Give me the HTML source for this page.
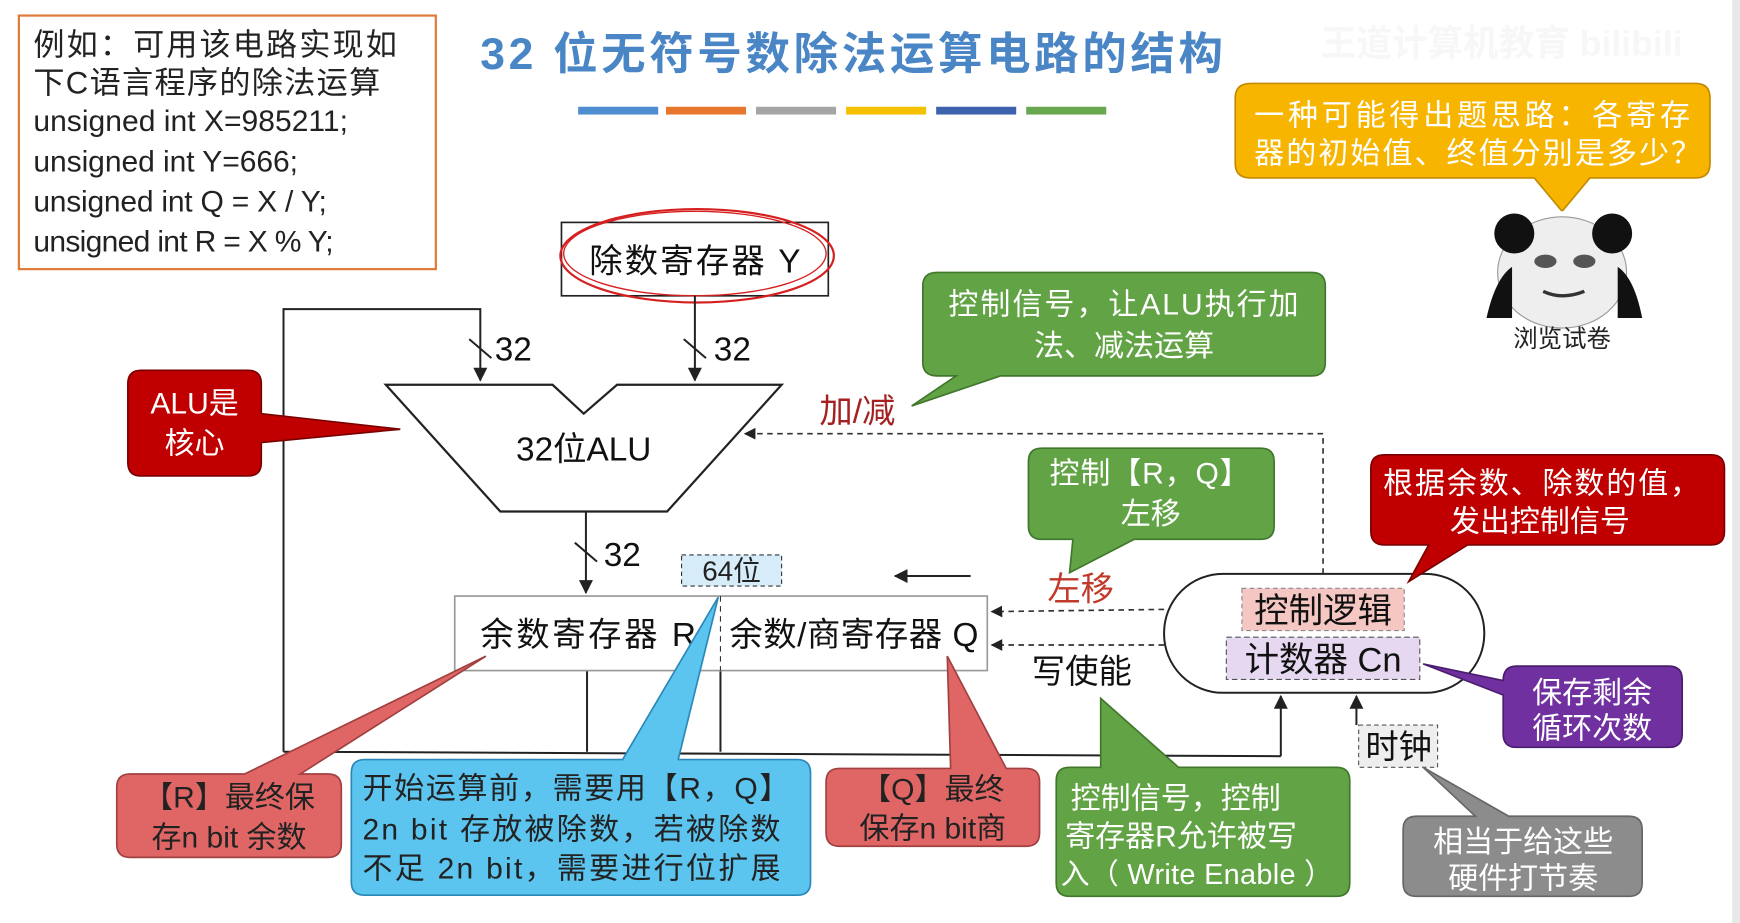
<!DOCTYPE html>
<html><head><meta charset="utf-8"><style>
html,body{margin:0;padding:0;background:#fff;overflow:hidden}
svg{display:block}
text{font-family:"Liberation Sans","Noto Sans CJK SC",sans-serif}
</style></head><body>
<svg width="1740" height="923" viewBox="0 0 1565 830" preserveAspectRatio="none" xmlns="http://www.w3.org/2000/svg">
<defs>
<marker id="ar" viewBox="0 0 10 10" refX="9" refY="5" markerWidth="7" markerHeight="7" orient="auto-start-reverse"><path d="M0,0 L10,5 L0,10 z" fill="#222"/></marker>
</defs>
<rect width="1565" height="830" fill="#fff"/>
<rect x="1558" y="0" width="7" height="830" fill="#e8e8e8"/>

<rect x="17" y="14" width="375" height="228" fill="#fff" stroke="#e07b39" stroke-width="2"/>
<g font-size="27" fill="#222">
<text x="30" y="50" textLength="327" font-size="28">例如：可用该电路实现如</text>
<text x="30" y="84" textLength="312" font-size="28">下C语言程序的除法运算</text>
<text x="30" y="118" textLength="283">unsigned int X=985211;</text>
<text x="30" y="154" textLength="238">unsigned int Y=666;</text>
<text x="30" y="190" textLength="264">unsigned int Q = X / Y;</text>
<text x="30" y="226" textLength="270">unsigned int R = X % Y;</text>
</g>

<text x="432" y="62" font-size="40" font-weight="bold" fill="#4a86c5" textLength="668">32 位无符号数除法运算电路的结构</text>
<rect x="520" y="96" width="72" height="7" fill="#4e8ed0"/>
<rect x="599" y="96" width="72" height="7" fill="#e8772e"/>
<rect x="680" y="96" width="72" height="7" fill="#a5a5a5"/>
<rect x="761" y="96" width="72" height="7" fill="#f5c000"/>
<rect x="842" y="96" width="72" height="7" fill="#3f62ae"/>
<rect x="923" y="96" width="72" height="7" fill="#6aa84f"/>
<text x="1188" y="50" font-size="32" font-weight="bold" fill="#f7f7f7">王道计算机教育 bilibili</text>

<path d="M1125,75 H1525 Q1538,75 1538,88 V147 Q1538,160 1525,160 H1430 L1405,190 L1380,160 H1125 Q1111,160 1111,147 V88 Q1111,75 1125,75 Z" fill="#f7b500" stroke="#c48a00" stroke-width="1.5"/>
<text x="1128" y="113" font-size="27" fill="#fff" textLength="392">一种可能得出题思路：各寄存</text>
<text x="1128" y="147" font-size="27" fill="#fff" textLength="402">器的初始值、终值分别是多少？</text>

<g>
<rect x="1337" y="190" width="140" height="96" fill="#fff"/>
<ellipse cx="1405" cy="245" rx="58" ry="50" fill="#eee" stroke="#999"/>
<circle cx="1362" cy="210" r="18" fill="#111"/>
<circle cx="1450" cy="210" r="18" fill="#111"/>
<path d="M1337,286 Q1345,250 1360,240 L1360,286 Z" fill="#111"/>
<path d="M1477,286 Q1470,250 1455,240 L1455,286 Z" fill="#111"/>
<ellipse cx="1390" cy="235" rx="10" ry="6" fill="#555"/>
<ellipse cx="1425" cy="235" rx="10" ry="6" fill="#555"/>
<path d="M1388,262 Q1405,270 1425,262" stroke="#333" stroke-width="3" fill="none"/>
</g>
<text x="1405" y="312" font-size="22" fill="#222" text-anchor="middle">浏览试卷</text>

<rect x="505" y="200" width="240" height="66" fill="#fff" stroke="#222" stroke-width="1.5"/>
<text x="530" y="245" font-size="30" fill="#111" textLength="190">除数寄存器 Y</text>
<ellipse cx="627" cy="230" rx="123" ry="42" fill="none" stroke="#d62020" stroke-width="2"/>
<ellipse cx="625" cy="228" rx="118" ry="38" fill="none" stroke="#d62020" stroke-width="1.2"/>

<g stroke="#222" stroke-width="1.8" fill="none">
<line x1="625" y1="266" x2="625" y2="342" marker-end="url(#ar)"/>
<polyline points="255,676 255,278 432,278 432,342" marker-end="url(#ar)"/>
<line x1="527" y1="460" x2="527" y2="533" marker-end="url(#ar)"/>
<line x1="255" y1="676" x2="1152" y2="680"/>
<line x1="1152" y1="680" x2="1152" y2="626" marker-end="url(#ar)"/>
<line x1="528" y1="603" x2="528" y2="676"/>
<line x1="648" y1="603" x2="648" y2="676"/>
<line x1="1220" y1="652" x2="1220" y2="626" marker-end="url(#ar)"/>
<line x1="615" y1="305" x2="635" y2="322"/>
<line x1="422" y1="305" x2="442" y2="322"/>
<line x1="517" y1="488" x2="537" y2="505"/>
<line x1="873" y1="518" x2="805" y2="518" marker-end="url(#ar)"/>
</g>
<g font-size="30" fill="#111">
<text x="445" y="324">32</text>
<text x="642" y="324">32</text>
<text x="543" y="509">32</text>
</g>
<g stroke="#333" stroke-width="1.5" fill="none" stroke-dasharray="5,4">
<polyline points="1190,516 1190,390 670,390" marker-end="url(#ar)"/>
<line x1="1047" y1="548" x2="892" y2="550" marker-end="url(#ar)"/>
<line x1="1047" y1="580" x2="892" y2="580" marker-end="url(#ar)"/>
</g>
<text x="737" y="380" font-size="30" fill="#a52020">加/减</text>
<text x="942" y="540" font-size="30" fill="#c0392b">左移</text>
<text x="928" y="614" font-size="30" fill="#111">写使能</text>

<polygon points="347,346 497,346 525,372 555,346 703,346 600,460 450,460" fill="#fff" stroke="#222" stroke-width="2"/>
<text x="525" y="414" font-size="30" fill="#111" text-anchor="middle">32位ALU</text>

<rect x="613" y="499" width="90" height="28" fill="#d6ecf8" stroke="#333" stroke-dasharray="4,3"/>
<text x="658" y="522" font-size="25" fill="#222" text-anchor="middle">64位</text>

<rect x="409" y="536" width="479" height="67" fill="#fff" stroke="#999" stroke-width="1.5"/>
<line x1="648" y1="536" x2="648" y2="603" stroke="#333" stroke-dasharray="5,4"/>
<text x="432" y="581" font-size="30" fill="#111" textLength="194">余数寄存器 R</text>
<text x="656" y="581" font-size="30" fill="#111" textLength="224">余数/商寄存器 Q</text>

<rect x="1047" y="516" width="288" height="107" rx="53" fill="#fff" stroke="#222" stroke-width="1.8"/>
<rect x="1117" y="529" width="146" height="38" fill="#f4c7c3" stroke="#888" stroke-dasharray="4,3"/>
<text x="1190" y="560" font-size="31" fill="#111" text-anchor="middle">控制逻辑</text>
<rect x="1103" y="573" width="174" height="38" fill="#e5d8f0" stroke="#555" stroke-dasharray="5,3"/>
<text x="1190" y="604" font-size="31" fill="#111" text-anchor="middle">计数器 Cn</text>
<rect x="1222" y="652" width="71" height="38" fill="#eee" stroke="#555" stroke-dasharray="4,3"/>
<text x="1258" y="682" font-size="30" fill="#111" text-anchor="middle">时钟</text>

<path d="M843,245 H1180 Q1192,245 1192,257 V326 Q1192,338 1180,338 H900 L820,365 L860,338 H843 Q830,338 830,326 V257 Q830,245 843,245 Z" fill="#62a345" stroke="#41772c" stroke-width="1.5"/>
<text x="853" y="283" font-size="27" fill="#fff" textLength="315">控制信号，让ALU执行加</text>
<text x="1011" y="320" font-size="27" fill="#fff" text-anchor="middle">法、减法运算</text>

<path d="M937,403 H1134 Q1146,403 1146,415 V473 Q1146,485 1134,485 H1020 L962,515 L965,485 H937 Q925,485 925,473 V415 Q925,403 937,403 Z" fill="#62a345" stroke="#41772c" stroke-width="1.5"/>
<text x="944" y="435" font-size="27" fill="#fff" textLength="180">控制【R，Q】</text>
<text x="1035" y="471" font-size="27" fill="#fff" text-anchor="middle">左移</text>

<path d="M1245,409 H1539 Q1551,409 1551,421 V478 Q1551,490 1539,490 H1320 L1267,523 L1285,490 H1245 Q1233,490 1233,478 V421 Q1233,409 1245,409 Z" fill="#c00000" stroke="#7a0000" stroke-width="1.5"/>
<text x="1244" y="444" font-size="27" fill="#fff" textLength="285">根据余数、除数的值，</text>
<text x="1385" y="478" font-size="27" fill="#fff" text-anchor="middle">发出控制信号</text>

<path d="M1364,599 H1501 Q1513,599 1513,611 V660 Q1513,672 1501,672 H1364 Q1352,672 1352,660 V625 L1280,597 L1352,612 Q1352,599 1364,599 Z" fill="#7030a0" stroke="#4b1d6d" stroke-width="1.5"/>
<text x="1432" y="632" font-size="27" fill="#fff" text-anchor="middle">保存剩余</text>
<text x="1432" y="664" font-size="27" fill="#fff" text-anchor="middle">循环次数</text>

<path d="M1274,734 H1327 L1280,690 L1357,734 H1465 Q1477,734 1477,746 V794 Q1477,806 1465,806 H1274 Q1262,806 1262,794 V746 Q1262,734 1274,734 Z" fill="#8c8c8c" stroke="#666" stroke-width="1.5"/>
<text x="1370" y="766" font-size="27" fill="#fff" text-anchor="middle">相当于给这些</text>
<text x="1370" y="799" font-size="27" fill="#fff" text-anchor="middle">硬件打节奏</text>

<path d="M962,690 H990 L990,628 L1060,690 H1202 Q1214,690 1214,702 V794 Q1214,806 1202,806 H962 Q950,806 950,794 V702 Q950,690 962,690 Z" fill="#62a345" stroke="#41772c" stroke-width="1.5"/>
<text x="963" y="727" font-size="27" fill="#fff">控制信号，控制</text>
<text x="958" y="761" font-size="27" fill="#fff">寄存器R允许被写</text>
<text x="954" y="795" font-size="26" fill="#fff" textLength="245">入（ Write Enable ）</text>

<path d="M127,333 H223 Q235,333 235,345 V372 L360,386 L235,398 V416 Q235,428 223,428 H127 Q115,428 115,416 V345 Q115,333 127,333 Z" fill="#c00000" stroke="#7a0000" stroke-width="1.5"/>
<text x="175" y="372" font-size="27" fill="#fff" text-anchor="middle">ALU是</text>
<text x="175" y="408" font-size="27" fill="#fff" text-anchor="middle">核心</text>

<path d="M117,696 H220 L437,590 L270,696 H295 Q307,696 307,708 V759 Q307,771 295,771 H117 Q105,771 105,759 V708 Q105,696 117,696 Z" fill="#e06666" stroke="#a04040" stroke-width="1.5"/>
<text x="206" y="726" font-size="27" fill="#222" text-anchor="middle">【R】最终保</text>
<text x="206" y="762" font-size="27" fill="#222" text-anchor="middle">存n bit 余数</text>

<path d="M328,683 H560 L646,537 L610,683 H717 Q729,683 729,695 V793 Q729,805 717,805 H328 Q316,805 316,793 V695 Q316,683 328,683 Z" fill="#5bc4ef" stroke="#2a88b8" stroke-width="1.5"/>
<text x="326" y="718" font-size="27" fill="#222" textLength="384">开始运算前，需要用【R，Q】</text>
<text x="326" y="755" font-size="27" fill="#222" textLength="376">2n bit 存放被除数，若被除数</text>
<text x="326" y="790" font-size="27" fill="#222" textLength="376">不足 2n bit，需要进行位扩展</text>

<path d="M755,691 H855 L852,590 L905,691 H923 Q935,691 935,703 V749 Q935,761 923,761 H755 Q743,761 743,749 V703 Q743,691 755,691 Z" fill="#e06666" stroke="#a04040" stroke-width="1.5"/>
<text x="839" y="719" font-size="27" fill="#222" text-anchor="middle">【Q】最终</text>
<text x="839" y="754" font-size="27" fill="#222" text-anchor="middle">保存n bit商</text>
</svg>
</body></html>
